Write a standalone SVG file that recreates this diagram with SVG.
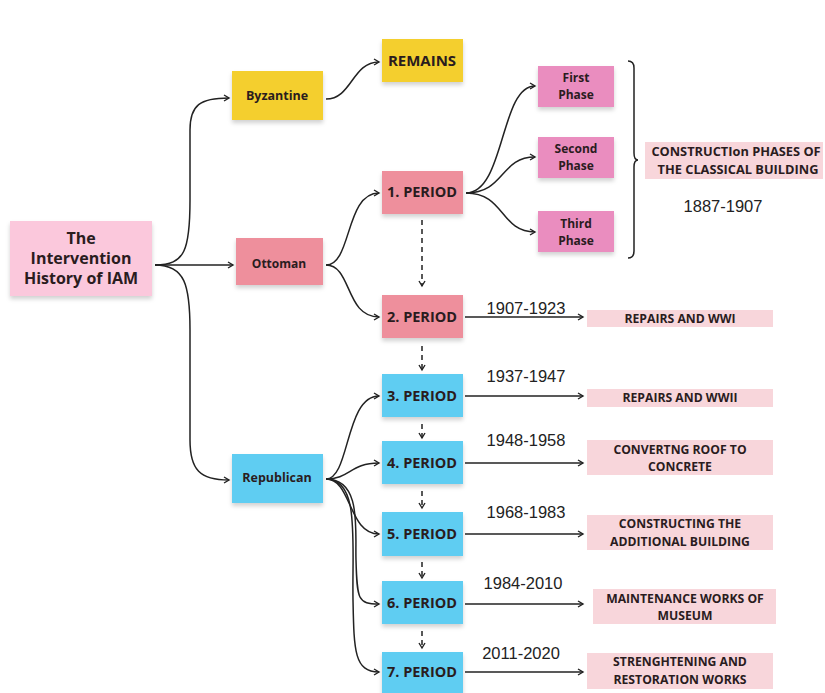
<svg xmlns="http://www.w3.org/2000/svg" width="825" height="693" viewBox="0 0 825 693">
<defs>
<marker id="arr" markerWidth="8" markerHeight="8" refX="6" refY="4" orient="auto" markerUnits="userSpaceOnUse">
<path d="M1,1 L6,4 L1,7" fill="none" stroke="#222" stroke-width="1.4"/>
</marker>
<filter id="sh" x="-10%" y="-10%" width="120%" height="140%">
<feDropShadow dx="0" dy="3" stdDeviation="2" flood-color="#000" flood-opacity="0.18"/>
</filter>
<style>
.n{filter:url(#sh)}
.t{font-family:"Open Sans","Noto Sans","Liberation Sans",sans-serif;font-weight:bold;fill:#2a1c1e;text-anchor:middle}
.d{font-family:"Liberation Sans",Arial,sans-serif;font-size:16.5px;fill:#222;text-anchor:middle}
.c{fill:none;stroke:#222;stroke-width:1.5}
.a{marker-end:url(#arr)}
.ds{stroke-dasharray:5,4}
.yel{fill:#f4cf2e}.ott{fill:#ee8f9c}.ph{fill:#ea8dbf}.rep{fill:#5fcdf2}.lab{fill:#f8d6db}
.pt{font-size:14.5px}.lt{font-size:12.2px}
</style>
</defs>
<rect width="825" height="693" fill="#fff"/>
<g id="connectors">
<path class="c a" d="M155,265 C185,265 190,250 190,200 L190,130 C190,105 200,98 229,98"/>
<path class="c a" d="M155,265 L233,265"/>
<path class="c a" d="M155,265 C185,265 190,285 190,330 L190,440 C190,470 200,480 229,480"/>
<path class="c a" d="M326,99 C352,99 352,62 379,62"/>
<path class="c a" d="M326,265 C352,265 345,193 379,193"/>
<path class="c a" d="M326,265 C352,265 345,317 379,317"/>
<path class="c a" d="M466,193 C505,193 500,86 535,86"/>
<path class="c a" d="M466,193 C505,193 500,157 535,157"/>
<path class="c a" d="M466,193 C505,193 500,232 535,232"/>
<path class="c a" d="M326,479 C350,479 345,396 379,396"/>
<path class="c a" d="M326,479 C350,479 350,463 379,463"/>
<path class="c a" d="M326,479 C352,479 348,534 379,534"/>
<path class="c a" d="M326,479 C362,479 355,530 356,560 C357,600 358,604 379,604"/>
<path class="c a" d="M326,479 C360,479 352,540 353,600 C354,650 354,672 379,672"/>
<path class="c a ds" d="M422,220 L422,286"/>
<path class="c a ds" d="M422,346 L422,370"/>
<path class="c a ds" d="M422,424 L422,438"/>
<path class="c a ds" d="M422,491 L422,508"/>
<path class="c a ds" d="M422,562 L422,578"/>
<path class="c a ds" d="M422,631 L422,648"/>
<path class="c a" d="M465,317 L583,317"/>
<path class="c a" d="M465,396 L583,396"/>
<path class="c a" d="M465,463 L583,463"/>
<path class="c a" d="M465,534 L583,534"/>
<path class="c a" d="M465,604 L583,604"/>
<path class="c a" d="M465,672 L583,672"/>
<path class="c" d="M628,61 Q634,61 634,68 L634,153 Q634,160 638,160 Q634,160 634,167 L634,251 Q634,258 628,258"/>
</g>
<g id="root"><rect class="n" x="10" y="221" width="142" height="75" fill="#fbc8dc"/>
<text class="t" font-size="16" x="81" y="244">The</text>
<text class="t" font-size="16" x="81" y="264">Intervention</text>
<text class="t" font-size="16" x="81" y="284">History of IAM</text></g>
<g id="byzantine"><rect class="n yel" x="232" y="71" width="91" height="49"/><text class="t" font-size="12.5" x="277" y="100">Byzantine</text></g>
<g id="remains"><rect class="n yel" x="382" y="39" width="81" height="43"/><text class="t" font-size="15" x="422" y="66">REMAINS</text></g>
<g id="ottoman"><rect class="n ott" x="236" y="238" width="87" height="47"/><text class="t" font-size="12" x="279" y="268">Ottoman</text></g>
<g id="p1"><rect class="n ott" x="382" y="171" width="81" height="43"/><text class="t pt" x="422" y="197">1. PERIOD</text></g>
<g id="p2"><rect class="n ott" x="382" y="295" width="81" height="43"/><text class="t pt" x="422" y="322">2. PERIOD</text></g>
<g id="phase1"><rect class="n ph" x="538" y="66" width="76" height="41"/><text class="t" font-size="12" x="576" y="82">First</text><text class="t" font-size="12" x="576" y="99">Phase</text></g>
<g id="phase2"><rect class="n ph" x="538" y="137" width="76" height="41"/><text class="t" font-size="12" x="576" y="153">Second</text><text class="t" font-size="12" x="576" y="170">Phase</text></g>
<g id="phase3"><rect class="n ph" x="538" y="211" width="76" height="41"/><text class="t" font-size="12" x="576" y="228">Third</text><text class="t" font-size="12" x="576" y="245">Phase</text></g>
<g id="construction"><rect class="lab" x="645" y="142" width="178" height="37"/>
<text class="t" font-size="12.8" x="736" y="156">CONSTRUCTIon PHASES OF</text>
<text class="t" font-size="12.8" x="738" y="174">THE CLASSICAL BUILDING</text></g>
<text class="d" x="723" y="212">1887-1907</text>
<g id="republican"><rect class="n rep" x="232" y="454" width="91" height="49"/><text class="t" font-size="12.5" x="277" y="482">Republican</text></g>
<g id="p3"><rect class="n rep" x="382" y="374" width="81" height="43"/><text class="t pt" x="422" y="401">3. PERIOD</text></g>
<g id="p4"><rect class="n rep" x="382" y="441" width="81" height="43"/><text class="t pt" x="422" y="468">4. PERIOD</text></g>
<g id="p5"><rect class="n rep" x="382" y="512" width="81" height="44"/><text class="t pt" x="422" y="539">5. PERIOD</text></g>
<g id="p6"><rect class="n rep" x="382" y="581" width="81" height="43"/><text class="t pt" x="422" y="608">6. PERIOD</text></g>
<g id="p7"><rect class="n rep" x="382" y="652" width="81" height="45"/><text class="t pt" x="422" y="677">7. PERIOD</text></g>
<g id="dates">
<text class="d" x="526" y="314">1907-1923</text>
<text class="d" x="526" y="382">1937-1947</text>
<text class="d" x="526" y="446">1948-1958</text>
<text class="d" x="526" y="518">1968-1983</text>
<text class="d" x="523" y="589">1984-2010</text>
<text class="d" x="521" y="659">2011-2020</text>
</g>
<g id="l2"><rect class="lab" x="587" y="310" width="186" height="17"/><text class="t lt" x="680" y="323">REPAIRS AND WWI</text></g>
<g id="l3"><rect class="lab" x="587" y="389" width="186" height="18"/><text class="t lt" x="680" y="402">REPAIRS AND WWII</text></g>
<g id="l4"><rect class="lab" x="587" y="440" width="186" height="35"/><text class="t lt" x="680" y="454">CONVERTNG ROOF TO</text><text class="t lt" x="680" y="471">CONCRETE</text></g>
<g id="l5"><rect class="lab" x="587" y="515" width="186" height="35"/><text class="t lt" x="680" y="528">CONSTRUCTING THE</text><text class="t lt" x="680" y="546">ADDITIONAL BUILDING</text></g>
<g id="l6"><rect class="lab" x="593" y="589" width="183" height="35"/><text class="t lt" x="685" y="603">MAINTENANCE WORKS OF</text><text class="t lt" x="685" y="620">MUSEUM</text></g>
<g id="l7"><rect class="lab" x="587" y="653" width="186" height="36"/><text class="t lt" x="680" y="666">STRENGHTENING AND</text><text class="t lt" x="680" y="684">RESTORATION WORKS</text></g>
</svg>
